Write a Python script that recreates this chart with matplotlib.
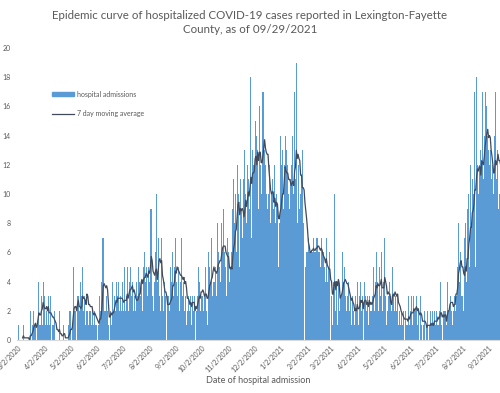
import numpy as np
import pandas as pd
import matplotlib
matplotlib.use("Agg")
import matplotlib.pyplot as plt
import matplotlib.dates as mdates
from matplotlib.patches import Patch
from matplotlib.lines import Line2D

# daily hospital admissions
mar_2020 = [0, 1, 0, 0, 0, 0, 0, 1, 0, 0, 0, 0, 0, 0, 0, 2, 0, 1, 1, 2, 1, 1, 0, 1, 4, 4, 1, 1, 3, 1, 4]
apr_2020 = [2, 3, 1, 2, 1, 3, 1, 2, 3, 0, 1, 1, 2, 0, 1, 0, 0, 0, 2, 0, 0, 0, 0, 1, 0, 0, 0, 0, 0, 1]
may_2020 = [2, 2, 0, 1, 5, 4, 2, 2, 0, 3, 3, 2, 4, 1, 3, 5, 2, 3, 1, 2, 6, 2, 1, 2, 2, 1, 2, 3, 1, 2, 1]
jun_2020 = [1, 0, 1, 2, 3, 2, 4, 7, 7, 2, 1, 2, 3, 2, 1, 0, 2, 3, 1, 4, 2, 3, 2, 4, 2, 3, 4, 2, 3, 2]
jul_2020 = [4, 1, 2, 5, 2, 3, 5, 2, 3, 4, 5, 3, 4, 2, 3, 1, 2, 4, 3, 5, 4, 3, 6, 4, 2, 5, 6, 4, 5, 5, 3]
aug_2020 = [5, 4, 9, 9, 3, 0, 2, 4, 6, 10, 4, 7, 5, 3, 2, 7, 3, 2, 4, 2, 3, 0, 3, 3, 2, 5, 3, 4, 6, 3, 5]
sep_2020 = [7, 4, 6, 3, 5, 2, 4, 7, 3, 5, 4, 2, 3, 1, 2, 3, 4, 2, 3, 1, 3, 2, 3, 0, 4, 2, 3, 5, 4, 2]
oct_2020 = [3, 4, 3, 2, 3, 5, 2, 1, 4, 6, 5, 4, 7, 3, 4, 6, 4, 5, 3, 8, 6, 5, 7, 4, 8, 6, 9, 6, 5, 4, 3]
nov_2020 = [7, 6, 4, 5, 6, 3, 9, 11, 8, 10, 6, 12, 9, 10, 5, 11, 9, 7, 11, 6, 13, 10, 8, 12, 11, 9, 10, 18, 7, 13]
dec_2020 = [12, 12, 15, 11, 14, 13, 9, 16, 12, 10, 11, 17, 17, 13, 12, 10, 9, 11, 10, 12, 8, 10, 11, 9, 6, 12, 8, 10, 9, 5, 8]
jan_2021 = [9, 14, 12, 13, 9, 12, 14, 7, 13, 12, 10, 9, 11, 12, 8, 14, 10, 17, 11, 19, 8, 10, 12, 9, 10, 11, 13, 8, 9, 6, 5]
feb_2021 = [6, 6, 7, 6, 6, 6, 6, 6, 7, 6, 6, 7, 6, 7, 6, 6, 5, 7, 6, 4, 6, 5, 4, 7, 4, 5, 3, 6]
mar_2021 = [0, 3, 1, 4, 10, 4, 2, 4, 1, 4, 2, 3, 5, 3, 6, 4, 5, 3, 2, 4, 3, 4, 2, 3, 1, 3, 2, 2, 1, 3, 2]
apr_2021 = [4, 1, 2, 3, 4, 2, 3, 0, 4, 3, 3, 2, 3, 1, 3, 2, 4, 2, 3, 5, 2, 4, 6, 3, 4, 2, 5, 3, 6, 2]
may_2021 = [3, 4, 7, 3, 1, 2, 3, 2, 4, 3, 2, 5, 3, 2, 4, 3, 2, 3, 1, 2, 1, 2, 2, 1, 2, 0, 2, 1, 2, 1, 3]
jun_2021 = [1, 2, 3, 1, 2, 3, 2, 2, 3, 1, 2, 0, 2, 3, 1, 0, 1, 2, 0, 1, 1, 2, 0, 1, 2, 1, 0, 2, 1, 2]
jul_2021 = [1, 2, 1, 2, 1, 2, 4, 1, 0, 2, 1, 2, 2, 1, 4, 2, 2, 4, 3, 2, 1, 2, 3, 2, 9, 3, 5, 8, 4, 6, 3]
aug_2021 = [6, 3, 2, 7, 8, 4, 9, 6, 10, 5, 12, 8, 11, 10, 9, 17, 5, 18, 12, 10, 12, 9, 13, 12, 17, 11, 14, 17, 12, 16, 14]
sep_2021 = [13, 12, 13, 11, 9, 12, 10, 14, 17, 11, 13, 12, 9, 10, 12]

admissions = (mar_2020 + apr_2020 + may_2020 + jun_2020 + jul_2020 + aug_2020
              + sep_2020 + oct_2020 + nov_2020 + dec_2020 + jan_2021 + feb_2021
              + mar_2021 + apr_2021 + may_2021 + jun_2021 + jul_2021 + aug_2021
              + sep_2021)

df = pd.DataFrame({
    "date": pd.date_range("2020-03-01", periods=len(admissions), freq="D"),
    "admissions": admissions,
})
df["ma7"] = df["admissions"].rolling(7).mean()

plt.rcParams["font.family"] = ["Lato", "DejaVu Sans"]
gray = "#595959"

fig = plt.figure(figsize=(5.0, 3.93), dpi=100)
ax = fig.add_axes([0.034, 0.135, 0.966, 0.743])

ax.bar(df["date"], df["admissions"], width=1.0, color="#5B9BD5", linewidth=0)
ax.plot(df["date"], df["ma7"], color="#404A5A", linewidth=0.9)

start = mdates.date2num(pd.Timestamp("2020-03-01")) - 0.5
ax.set_xlim(start, start + 562.8)
ax.set_ylim(0, 20)
ax.set_yticks(np.arange(0, 21, 2))

# ticks on the 2nd of every month
ticks = pd.date_range("2020-03-01", "2021-09-01", freq="MS") + pd.Timedelta(days=1)
ax.set_xticks(ticks)
ax.set_xticklabels([f"{t.month}/{t.day}/{t.year}" for t in ticks],
                   rotation=45, ha="right", rotation_mode="anchor")

ax.tick_params(axis="both", length=0, labelsize=5, colors=gray)
ax.tick_params(axis="y", pad=4.5)
ax.tick_params(axis="x", pad=3)
for s in ["top", "right", "left"]:
    ax.spines[s].set_visible(False)
ax.spines["bottom"].set_color("#D9D9D9")

ax.set_xlabel("Date of hospital admission", fontsize=6.5, color=gray, labelpad=2)
fig.suptitle("Epidemic curve of hospitalized COVID-19 cases reported in Lexington-Fayette\nCounty, as of 09/29/2021",
             fontsize=8.3, color=gray, x=0.5, y=0.975, linespacing=1.3)

handles = [Patch(color="#5B9BD5"), Line2D([], [], color="#404A5A", linewidth=0.9)]
ax.legend(handles, ["hospital admissions", "7 day moving average"],
          loc="upper left", bbox_to_anchor=(0.06, 0.875), frameon=False,
          fontsize=5, labelcolor=gray, handlelength=3.2, handleheight=0.6,
          labelspacing=1.8, handletextpad=0.3)

fig.savefig("out.png", dpi=100)
